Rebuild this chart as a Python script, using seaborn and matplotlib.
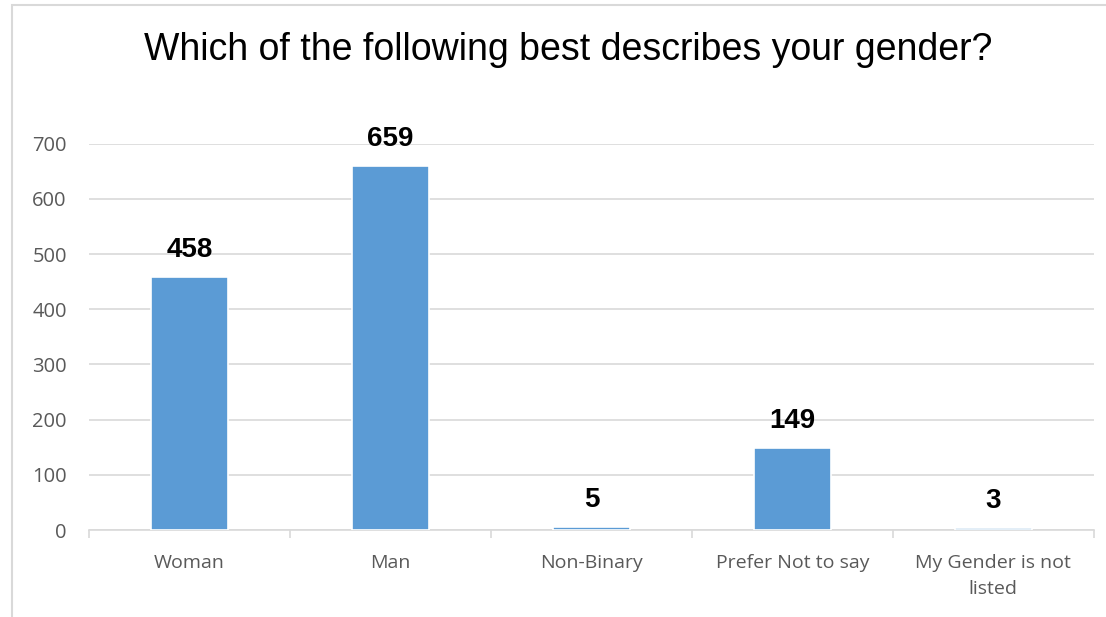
import matplotlib.pyplot as plt
import matplotlib.patches as mpatches
import seaborn as sns
import pandas as pd

# chart values
categories = ["Woman", "Man", "Non-Binary", "Prefer Not to say", "My Gender is not\nlisted"]
counts = [458, 659, 5, 149, 3]
y_ticks = [0, 100, 200, 300, 400, 500, 600, 700]

data = pd.DataFrame({"gender": categories, "count": counts})

sns.set_theme(style="white")
plt.rcParams["font.family"] = ["Liberation Sans", "DejaVu Sans"]

fig = plt.figure(figsize=(11.06, 6.17), dpi=100)
ax = fig.add_axes([0.0805, 0.141, 0.9085, 0.626])

# light grey frame round the chart, cut off at right and bottom like the source
fig.patches.append(mpatches.Rectangle((0.0109, -0.1), 1.2, 1.092, transform=fig.transFigure,
                                      fill=False, edgecolor="#d9d9d9", linewidth=1.5))

sns.barplot(data=data, x="gender", y="count", color="#5B9BD5", width=0.38,
            edgecolor="white", linewidth=1.2, saturation=1, ax=ax, zorder=3)

ax.set_ylim(0, 700)
ax.set_xlim(-0.5, len(categories) - 0.5)
ax.set_yticks(y_ticks)
ax.yaxis.grid(True, color="#d9d9d9", linewidth=1.2, zorder=0)
ax.set_axisbelow(True)

for side in ["top", "right", "left"]:
    ax.spines[side].set_visible(False)
ax.spines["bottom"].set_color("#d9d9d9")
ax.spines["bottom"].set_linewidth(1.2)

# ticks at category boundaries
ax.set_xticks(range(len(categories)))
ax.set_xticklabels(categories, linespacing=1.6)
ax.set_xticks([i - 0.5 for i in range(len(categories) + 1)], minor=True)
ax.tick_params(axis="x", which="major", length=0, pad=17, labelsize=14, labelcolor="#595959")
ax.tick_params(axis="x", which="minor", length=6, width=1.2, color="#d9d9d9", bottom=True)
ax.tick_params(axis="y", length=0, pad=16, labelsize=14.5, labelcolor="#595959")
ax.set_xlabel("")
ax.set_ylabel("")
for lbl in ax.get_xticklabels() + ax.get_yticklabels():
    lbl.set_family(["Open Sans", "DejaVu Sans"])

# value labels above the bars
for i, v in enumerate(counts):
    ax.annotate(str(v), (i, v), xytext=(0, 14.5), textcoords="offset points",
                ha="center", va="baseline", fontsize=20, fontweight="bold", color="black")

fig.text(0.514, 0.903, "Which of the following best describes your gender?",
         ha="center", va="baseline", fontsize=27, color="black")

fig.savefig("out.png", dpi=100)
